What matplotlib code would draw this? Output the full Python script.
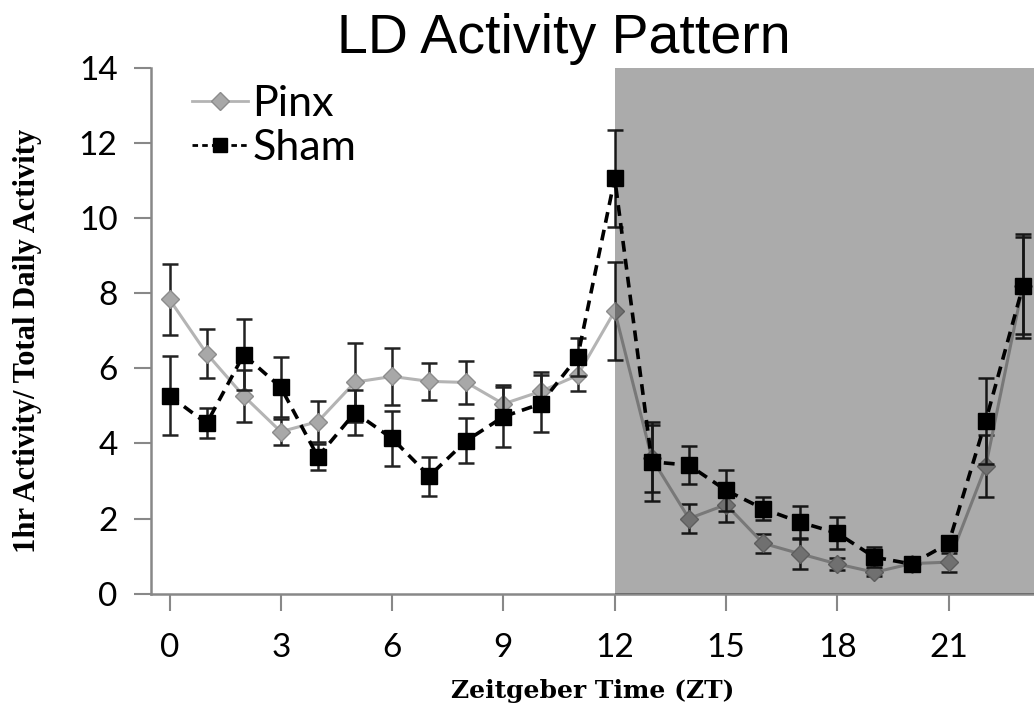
import matplotlib.pyplot as plt
from matplotlib.lines import Line2D

# hourly activity as % of total daily activity
zt = list(range(24))
pinx = [7.83, 6.39, 5.26, 4.31, 4.58, 5.63, 5.78, 5.65, 5.62, 5.05, 5.38, 5.81,
        7.52, 3.60, 2.00, 2.37, 1.34, 1.06, 0.79, 0.57, 0.80, 0.84, 3.39, 8.20]
pinx_err = [0.95, 0.65, 0.70, 0.35, 0.55, 1.05, 0.76, 0.50, 0.56, 0.50, 0.53, 0.43,
            1.30, 0.90, 0.38, 0.45, 0.25, 0.40, 0.15, 0.10, 0.10, 0.25, 0.82, 1.30]
sham = [5.27, 4.53, 6.36, 5.49, 3.64, 4.82, 4.13, 3.13, 4.07, 4.71, 5.05, 6.30,
        11.05, 3.51, 3.42, 2.75, 2.26, 1.90, 1.61, 0.97, 0.79, 1.34, 4.60, 8.18]
sham_err = [1.05, 0.40, 0.95, 0.80, 0.35, 0.60, 0.72, 0.52, 0.60, 0.80, 0.76, 0.50,
            1.30, 1.05, 0.50, 0.54, 0.30, 0.42, 0.42, 0.27, 0.10, 0.15, 1.15, 1.38]

xticks = [0, 3, 6, 9, 12, 15, 18, 21]
yticks = [0, 2, 4, 6, 8, 10, 12, 14]
dark_start = 12

fig = plt.figure(figsize=(10.34, 7.11), dpi=100)
ax = fig.add_axes([0.146, 0.165, 0.854, 0.74])

ax.errorbar(zt, pinx, yerr=pinx_err, color="#b4b4b4", lw=2.2, marker="D", ms=9,
            mfc="#a8a8a8", mec="#8c8c8c", ecolor="#222222", elinewidth=1.8,
            capsize=6, capthick=1.8, zorder=3)
ax.errorbar(zt, sham, yerr=sham_err, color="black", lw=2.6, ls=(0, (3, 2)),
            marker="s", ms=12, mfc="black", mec="black", ecolor="#222222",
            elinewidth=1.8, capsize=6, capthick=1.8, zorder=4)

# dark phase shading drawn over the data
ax.axvspan(dark_start, 24, color="black", alpha=0.33, lw=0, zorder=5)

ax.set_xlim(-0.5, 23.3)
ax.set_ylim(0, 14)
ax.set_xticks(xticks)
ax.set_yticks(yticks)
ax.tick_params(axis="both", direction="out", length=12, width=1.5, color="#888888",
               labelsize=24, pad=12)
for lab in ax.get_xticklabels() + ax.get_yticklabels():
    lab.set_family("Lato")
ax.tick_params(axis="x", pad=16)

for side in ["top", "right"]:
    ax.spines[side].set_visible(False)
for side in ["left", "bottom"]:
    ax.spines[side].set_color("#888888")
    ax.spines[side].set_linewidth(1.8)

fig.text(0.545, 0.925, "LD Activity Pattern", fontsize=40, family="Liberation Sans",
         ha="center", va="baseline")
ax.set_xlabel("Zeitgeber Time (ZT)", fontsize=18, fontweight="bold",
              family="DejaVu Serif", labelpad=12)
fig.text(0.027, 0.52, "1hr Activity/ Total Daily Activity", fontsize=22,
         fontweight="bold", family="Liberation Serif", rotation=90,
         ha="center", va="center")

handles = [
    Line2D([], [], color="#b4b4b4", lw=2, marker="D", ms=9, mfc="#a8a8a8", mec="#8c8c8c"),
    Line2D([], [], color="black", lw=2, ls=(0, (2, 1.5)), marker="s", ms=10, mfc="black"),
]
ax.legend(handles, ["Pinx", "Sham"], loc="upper left", bbox_to_anchor=(0.027, 1.0),
          frameon=False, prop={"family": "Lato", "size": 31}, handlelength=1.3,
          handletextpad=0.1, labelspacing=0.15, borderaxespad=0)

fig.savefig("out.png", dpi=100)
